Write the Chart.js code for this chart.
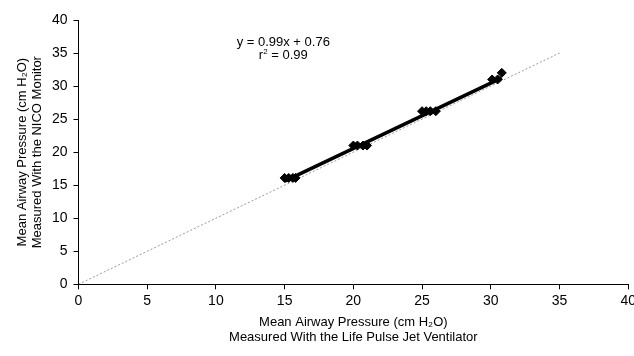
<!DOCTYPE html>
<html>
<head>
<meta charset="utf-8">
<script src="https://cdn.jsdelivr.net/npm/chart.js@4/dist/chart.umd.min.js"></script>
<style>
  body { margin: 0; background: #fff; overflow: hidden; }
  #wrap { width: 639px; height: 356px; }
</style>
</head>
<body>
<div id="wrap"><canvas id="myChart"></canvas></div>
<script>
// jet ventilator readings (x) vs NICO monitor readings (y)
const jetX = [15.0, 15.3, 15.6, 15.8, 20.0, 20.3, 20.7, 21.0, 25.0, 25.3, 25.6, 26.0, 30.1, 30.5, 30.8];
const nicoY = [16.1, 16.1, 16.1, 16.1, 21.0, 21.0, 21.0, 21.0, 26.2, 26.2, 26.2, 26.2, 31.0, 31.0, 32.0];
const identX = [0, 35];
const fitX = [15.0, 30.8];
const slope = 0.99;
const intercept = 0.76;
const xTicks = [0, 5, 10, 15, 20, 25, 30, 35, 40];
const yTicks = [0, 5, 10, 15, 20, 25, 30, 35, 40];

const points = jetX.map((x, i) => ({x: x, y: nicoY[i]}));
const identity = identX.map(v => ({x: v, y: v}));
const fitLine = fitX.map(v => ({x: v, y: slope * v + intercept}));

const FONT = 'Liberation Sans, Arial, sans-serif';

// equation text near the top of the plot
const eqText = {
  id: 'eqText',
  afterDraw(chart) {
    const c = chart.ctx;
    const xs = chart.scales.x, ys = chart.scales.y;
    const cx = xs.getPixelForValue(14.9);
    const y1 = ys.getPixelForValue(36.6);
    c.save();
    c.fillStyle = '#000';
    c.font = '13px ' + FONT;
    c.textAlign = 'center';
    c.textBaseline = 'middle';
    c.fillText('y = 0.99x + 0.76', cx, y1);
    // r^2 = 0.99
    const y2 = y1 + 13;
    const a = 'r', b = ' = 0.99';
    const wa = c.measureText(a).width, wb = c.measureText(b).width;
    c.font = '8px ' + FONT;
    const ws = c.measureText('2').width;
    const total = wa + ws + wb;
    let left = cx - total / 2;
    c.textAlign = 'left';
    c.font = '13px ' + FONT;
    c.fillText(a, left, y2);
    c.font = '8px ' + FONT;
    c.fillText('2', left + wa, y2 - 4);
    c.font = '13px ' + FONT;
    c.fillText(b, left + wa + ws, y2);
    c.restore();
  }
};

const ctx = document.getElementById('myChart');
const myChart = new Chart(ctx, {
  type: 'scatter',
  data: {
    datasets: [{
      data: identity,
      showLine: true,
      borderColor: '#9a9a9a',
      borderWidth: 1,
      borderDash: [2, 2],
      pointRadius: 0,
      order: 3
    }, {
      data: fitLine,
      showLine: true,
      borderColor: '#000',
      borderWidth: 3.5,
      pointRadius: 0,
      order: 2
    }, {
      data: points,
      pointStyle: 'rectRot',
      pointRadius: 4.5,
      backgroundColor: '#000',
      borderColor: '#000',
      borderWidth: 1,
      order: 1
    }]
  },
  options: {
    responsive: true,
    maintainAspectRatio: false,
    animation: false,
    layout: { padding: { top: 20, right: 0, left: 15, bottom: 11 } },
    plugins: {
      legend: { display: false },
      tooltip: { enabled: false }
    },
    scales: {
      x: {
        type: 'linear',
        min: 0, max: 40,
        afterBuildTicks: s => { s.ticks = xTicks.map(v => ({value: v})); },
        grid: { drawOnChartArea: false, drawTicks: true, tickLength: 5, color: '#000' },
        border: { display: true, color: '#000', width: 1 },
        ticks: { color: '#000', font: { family: FONT, size: 14 }, padding: 3, maxRotation: 0 },
        title: {
          display: true,
          text: ['Mean Airway Pressure (cm H\u2082O)', 'Measured With the Life Pulse Jet Ventilator'],
          color: '#000',
          font: { family: FONT, size: 13, lineHeight: 1.15 },
          padding: { top: 3, bottom: 0 }
        }
      },
      y: {
        type: 'linear',
        min: 0, max: 40,
        afterBuildTicks: s => { s.ticks = yTicks.map(v => ({value: v})); },
        grid: { drawOnChartArea: false, drawTicks: true, tickLength: 5, color: '#000' },
        border: { display: true, color: '#000', width: 1 },
        ticks: { color: '#000', font: { family: FONT, size: 14 }, padding: 6 },
        title: {
          display: true,
          text: ['Mean Airway Pressure (cm H\u2082O)', 'Measured With the NICO Monitor'],
          color: '#000',
          font: { family: FONT, size: 13, lineHeight: 1.15 },
          padding: { top: 0, bottom: 1 }
        }
      }
    }
  },
  plugins: [eqText]
});
</script>
</body>
</html>
